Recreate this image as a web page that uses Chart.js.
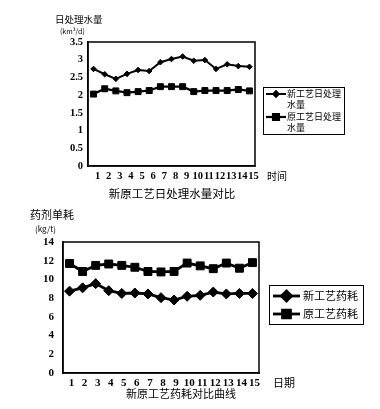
<!DOCTYPE html>
<html><head><meta charset="utf-8">
<script src="https://cdn.jsdelivr.net/npm/chart.js@4/dist/chart.umd.min.js"></script>
<style>
html,body{margin:0;padding:0;background:#fff;width:380px;height:409px;overflow:hidden}
#w1{position:absolute;left:0;top:0;width:380px;height:200px}
#w2{position:absolute;left:0;top:200px;width:380px;height:209px}
</style></head><body>
<div id="w1"><canvas id="c1" width="380" height="200"></canvas></div>
<div id="w2"><canvas id="c2" width="380" height="209"></canvas></div>
<script>
// ---- data ----
const days = ['1','2','3','4','5','6','7','8','9','10','11','12','13','14','15'];
const waterNew = [2.74,2.59,2.46,2.60,2.71,2.68,2.93,3.02,3.09,2.97,2.99,2.74,2.87,2.82,2.80];
const waterOld = [2.03,2.18,2.12,2.07,2.10,2.13,2.24,2.24,2.24,2.10,2.13,2.13,2.13,2.16,2.12];
const drugNew = [8.75,9.1,9.55,8.8,8.5,8.55,8.45,8.05,7.8,8.2,8.3,8.65,8.45,8.5,8.5];
const drugOld = [11.7,10.85,11.5,11.65,11.5,11.3,10.85,10.8,10.85,11.75,11.45,11.15,11.75,11.2,11.8];
const waterNames = ['新工艺日处理水量','原工艺日处理水量'];
const drugNames = ['新工艺药耗','原工艺药耗'];
const waterYTitle = ['日处理水量','(km³/d)'];
const drugYTitle = ['药剂单耗','(kg/t)'];
const waterXTitle = '时间';
const drugXTitle = '日期';
const waterTitle = '新原工艺日处理水量对比';
const drugTitle = '新原工艺药耗对比曲线';

const CJK = '"Noto Sans CJK SC", sans-serif';
const SERIF = '"Liberation Serif", "DejaVu Serif", serif';

const deco = {
  id: 'deco',
  afterDraw(chart, args, o) {
    const ctx = chart.ctx, a = chart.chartArea;
    ctx.save();
    ctx.strokeStyle = '#000';
    ctx.lineWidth = o.frame;
    ctx.strokeRect(a.left, a.top, a.right - a.left, a.bottom - a.top);
    ctx.fillStyle = '#000';
    ctx.textBaseline = 'middle';
    o.texts.forEach(t => {
      ctx.font = t.font;
      ctx.textAlign = t.align || 'left';
      ctx.fillText(t.text, t.x, t.y);
    });
    const L = o.legend;
    ctx.lineWidth = 1;
    ctx.strokeRect(L.x + 0.5, L.y + 0.5, L.w, L.h);
    chart.data.datasets.forEach((ds, i) => {
      const it = L.items[i];
      const y = L.y + it.y;
      ctx.strokeStyle = '#000';
      ctx.lineWidth = ds.borderWidth;
      ctx.beginPath();
      ctx.moveTo(L.x + L.s0, y);
      ctx.lineTo(L.x + L.s1, y);
      ctx.stroke();
      ctx.fillStyle = '#000';
      Chart.helpers.drawPoint(ctx, {pointStyle: ds.pointStyle, radius: ds.pointRadius, borderWidth: 1, rotation: 0}, L.x + (L.s0 + L.s1) / 2, y);
      ctx.fillStyle = '#000';
      ctx.font = L.font;
      ctx.textAlign = 'left';
      const lines = L.wrap ? [ds.label.slice(0, L.wrap), ds.label.slice(L.wrap)] : [ds.label];
      lines.forEach((ln, k) => ctx.fillText(ln, L.x + L.tx, y + k * L.lh));
    });
    ctx.restore();
  }
};

function makeChart(id, cfg) {
  return new Chart(document.getElementById(id), {
    type: 'line',
    data: {
      labels: days,
      datasets: cfg.series.map((s, i) => ({
        label: s.name, data: s.data,
        borderColor: '#000', backgroundColor: '#000',
        pointBackgroundColor: '#000', pointBorderColor: '#000',
        borderWidth: s.lw, pointStyle: s.style, pointRadius: s.r, pointBorderWidth: 1,
        tension: 0
      }))
    },
    options: {
      responsive: false, animation: false,
      layout: {padding: cfg.pad},
      plugins: {legend: {display: false}, tooltip: {enabled: false}, deco: cfg.deco},
      scales: {
        x: {
          offset: true,
          grid: {display: false, drawTicks: false},
          border: {display: true, color: '#000', width: cfg.frame},
          ticks: {color: '#000', font: {family: SERIF, size: cfg.tickSize, weight: 'bold'}, padding: 4, maxRotation: 0, autoSkip: false, labelOffset: cfg.xLabelOffset},
          afterFit: s => { s.height = cfg.xh; }
        },
        y: {
          min: cfg.min, max: cfg.max,
          grid: {display: false, drawTicks: false},
          border: {display: true, color: '#000', width: cfg.frame},
          ticks: {color: '#000', stepSize: cfg.step, font: {family: SERIF, size: cfg.tickSize, weight: 'bold'}, padding: cfg.ypad,
            callback: v => String(+v)},
          afterFit: s => { s.width = cfg.yw; }
        }
      }
    },
    plugins: [deco]
  });
}

makeChart('c1', {
  series: [
    {name: waterNames[0], data: waterNew, lw: 2, style: 'rectRot', r: 2.8},
    {name: waterNames[1], data: waterOld, lw: 2.2, style: 'rect', r: 4.2}
  ],
  pad: {left: 0, top: 42, right: 125, bottom: 0},
  xh: 34, yw: 88, min: 0, max: 3.5, step: 0.5, tickSize: 10.5, ypad: 5, frame: 1.5, xLabelOffset: 4,
  deco: {
    frame: 1.5,
    texts: [
      {text: waterYTitle[0], x: 55, y: 19, font: '9.5px ' + CJK},
      {text: waterYTitle[1], x: 60, y: 31, font: '7px ' + CJK},
      {text: waterXTitle, x: 267, y: 176, font: '10px ' + CJK},
      {text: waterTitle, x: 172, y: 194, font: '11.5px ' + CJK, align: 'center'}
    ],
    legend: {x: 263, y: 87, w: 81, h: 47, s0: 3, s1: 23, tx: 24, lh: 11, font: '9px ' + CJK, wrap: 6,
      items: [{y: 7}, {y: 30}]}
  }
});

makeChart('c2', {
  series: [
    {name: drugNames[0], data: drugNew, lw: 2.8, style: 'rectRot', r: 5},
    {name: drugNames[1], data: drugOld, lw: 2.8, style: 'rect', r: 5.6}
  ],
  pad: {left: 0, top: 42, right: 121, bottom: 0},
  xh: 36, yw: 63, min: 0, max: 14, step: 2, tickSize: 11, ypad: 9, frame: 1.5, xLabelOffset: 2,
  deco: {
    frame: 1.5,
    texts: [
      {text: drugYTitle[0], x: 30, y: 15, font: '11px ' + CJK},
      {text: drugYTitle[1], x: 35, y: 29, font: '8px ' + CJK},
      {text: drugXTitle, x: 273, y: 183, font: '11px ' + CJK},
      {text: drugTitle, x: 181, y: 194, font: '11px ' + CJK, align: 'center'}
    ],
    legend: {x: 269, y: 85, w: 94, h: 39, s0: 4, s1: 31, tx: 34, lh: 12, font: '11px ' + CJK, wrap: 0,
      items: [{y: 11}, {y: 29}]}
  }
});
</script>
</body></html>
